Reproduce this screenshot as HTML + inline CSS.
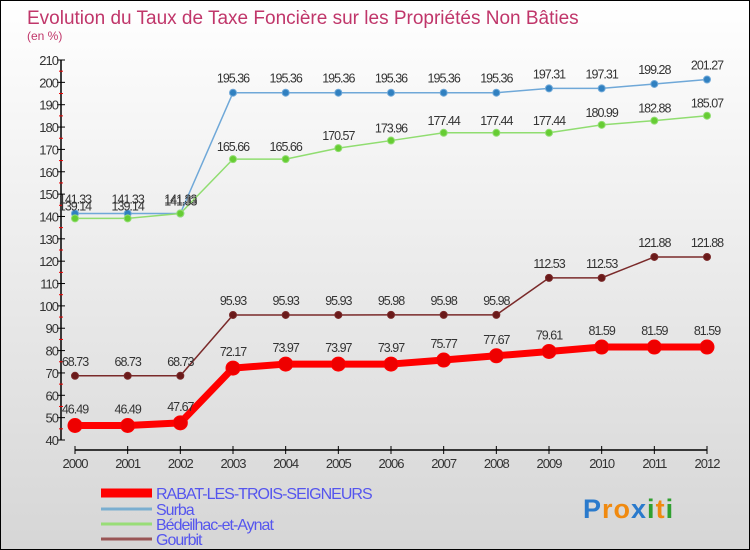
<!DOCTYPE html>
<html><head><meta charset="utf-8"><style>
body{margin:0;}
#wrap{width:748px;height:548px;border:1px solid #000;background:linear-gradient(#ffffff,#d6d6d6);position:relative;overflow:hidden;font-family:"Liberation Sans",sans-serif;}
svg{position:absolute;left:0;top:0}
</style></head><body>
<div id="wrap">
<svg id="chart" width="748" height="548"></svg>
</div>
<script>
const years=["2000","2001","2002","2003","2004","2005","2006","2007","2008","2009","2010","2011","2012"];
const rabat=[46.49,46.49,47.67,72.17,73.97,73.97,73.97,75.77,77.67,79.61,81.59,81.59,81.59];
const surba=[141.33,141.33,141.33,195.36,195.36,195.36,195.36,195.36,195.36,197.31,197.31,199.28,201.27];
const bedeilhac=[139.14,139.14,141.33,165.66,165.66,170.57,173.96,177.44,177.44,177.44,180.99,182.88,185.07];
const gourbit=[68.73,68.73,68.73,95.93,95.93,95.93,95.98,95.98,95.98,112.53,112.53,121.88,121.88];
const yTicks=[40,50,60,70,80,90,100,110,120,130,140,150,160,170,180,190,200,210];
const yMin=40,yMax=210;
const svg=document.getElementById('chart');
const NS='http://www.w3.org/2000/svg';
function x(i){return 74+i*(706-74)/(years.length-1);}
function y(v){return 59+(yMax-v)*380/(yMax-yMin);}
function mk(t,a,p){const e=document.createElementNS(NS,t);for(const k in a)e.setAttribute(k,a[k]);(p||svg).appendChild(e);return e;}
function txt(s,a){const e=mk('text',a);e.textContent=s;return e;}
let e;
e=txt('Evolution du Taux de Taxe Foncière sur les Propriétés Non Bâties',{x:26,y:23,'font-size':19,fill:'#c0366a'});

e=txt('(en %)',{x:26,y:39,'font-size':12,fill:'#c0366a'});

e=mk('line',{x1:60,y1:y(yMax),x2:60,y2:y(yMin),stroke:'#000','stroke-width':1.5});

yTicks.forEach(t=>{
 mk('line',{x1:56,y1:y(t),x2:64,y2:y(t),stroke:'#000'});
 if(t<yMax){mk('line',{x1:58,y1:y(t+5),x2:62,y2:y(t+5),stroke:'#e00'});}
 e=txt(String(t),{x:57,y:y(t)+5,'font-size':13,fill:'#333','text-anchor':'end','letter-spacing':'-1'});
 
});
e=mk('line',{x1:x(0),y1:449,x2:x(12),y2:449,stroke:'#000','stroke-width':1.5});

years.forEach((yr,i)=>{
 mk('line',{x1:x(i),y1:445,x2:x(i),y2:453,stroke:'#000'});
 e=txt(yr,{x:x(i),y:467,'font-size':13,fill:'#333','text-anchor':'middle','letter-spacing':'-1'});
 
});
function series(data,color,fill,w,r,name,lblOff){
 const g=mk('g',{});
 
 const pts=data.map((v,i)=>x(i)+','+y(v)).join(' ');
 mk('polyline',{points:pts,fill:'none',stroke:color,'stroke-width':w,'stroke-linejoin':'round'},g);
 data.forEach((v,i)=>{
  const c=mk('circle',{cx:x(i),cy:y(v),r:r,fill:fill,stroke:color,'stroke-width':1},g);
  
  const t=mk('text',{x:x(i),y:y(v)-lblOff,'font-size':12.5,fill:'#333','text-anchor':'middle','letter-spacing':'-1'},g);
  t.textContent=v.toFixed(2);
 });
}
series(gourbit,'#7a2a2a','#6a1a1a',1.5,3.5,'gourbit',10);
series(surba,'#6fa8d8','#3080c0',1.5,3.5,'surba',10);
series(bedeilhac,'#90dd70','#66cc33',1.5,3.5,'bedeilhac',8);
series(rabat,'#ff0000','#ee0000',7,7,'rabat',12);
const legNames=['RABAT-LES-TROIS-SEIGNEURS','Surba','Bédeilhac-et-Aynat','Gourbit'];
const legCols=['#ff0000','#7aaed0','#99dd77','#995555'];
const legW=[9,3,3,3];const legY=[492,508,523,538];
legNames.forEach((n,i)=>{
 const g=mk('g',{});
 
 mk('line',{x1:100,y1:legY[i],x2:151,y2:legY[i],stroke:legCols[i],'stroke-width':legW[i]},g);
 const t=mk('text',{x:155,y:legY[i]+6,'font-size':16,fill:'#5555ee','letter-spacing':'-1'},g);t.textContent=n;
});
const lg=mk('text',{x:582,y:517,'font-size':27,'font-weight':'bold','letter-spacing':'1'});

[['P','#2a7acc'],['ro','#f08a10'],['x','#2a7acc'],['i','#30a030'],['t','#f08a10'],['i','#30a030']].forEach(([s,c])=>{const t=mk('tspan',{fill:c},lg);t.textContent=s;});
</script>
</body></html>
